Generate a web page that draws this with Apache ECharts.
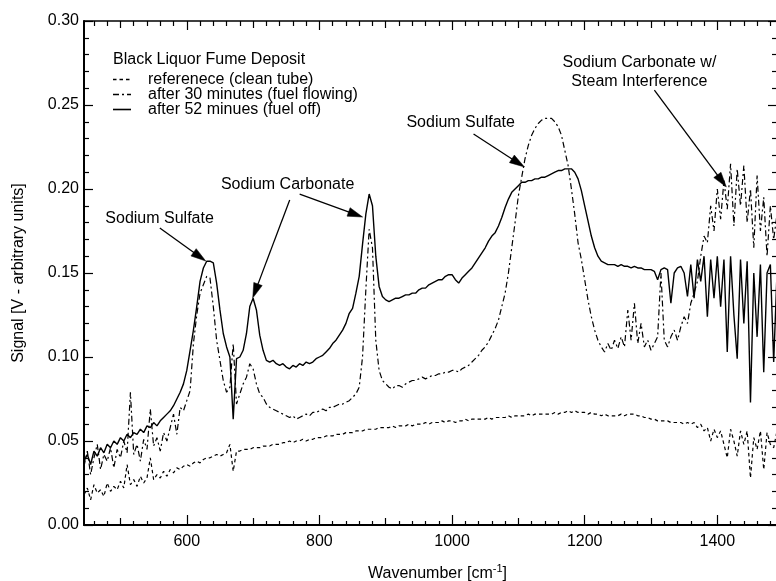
<!DOCTYPE html>
<html><head><meta charset="utf-8">
<script src="https://cdn.jsdelivr.net/npm/echarts@6.0.0/dist/echarts.min.js"></script>
<style>html,body{margin:0;padding:0;background:#fff}#c{width:776px;height:581px}</style>
</head><body><div id="c"></div>
<script>
// Wavenumber grid [cm-1]
const wavenumber = [
 445,450,455,460,465,470,475,480,485,490,
 495,500,505,510,515,520,525,530,535,540,
 545,550,555,560,565,570,575,580,585,590,
 595,600,605,610,615,620,625,630,635,640,
 645,650,655,660,665,670,675,680,685,690,
 695,700,705,710,715,720,725,730,735,740,
 745,750,755,760,765,770,775,780,785,790,
 795,800,805,810,815,820,825,830,835,840,
 845,850,855,860,865,870,875,880,885,890,
 895,900,905,910,915,920,925,930,935,940,
 945,950,955,960,965,970,975,980,985,990,
 995,1000,1005,1010,1015,1020,1025,1030,1035,1040,
 1045,1050,1055,1060,1065,1070,1075,1080,1085,1090,
 1095,1100,1105,1110,1115,1120,1125,1130,1135,1140,
 1145,1150,1155,1160,1165,1170,1175,1180,1185,1190,
 1195,1200,1205,1210,1215,1220,1225,1230,1235,1240,
 1245,1250,1255,1260,1265,1270,1275,1280,1285,1290,
 1295,1300,1305,1310,1315,1320,1325,1330,1335,1340,
 1345,1350,1355,1360,1365,1370,1375,1380,1385,1390,
 1395,1400,1405,1410,1415,1420,1425,1430,1435,1440,
 1445,1450,1455,1460,1465,1470,1475,1480,1485,1490
];
// referenece (clean tube) - dashed
const reference = [
 0.018,0.022,0.015,0.024,0.019,0.021,0.017,0.025,0.020,0.023,
 0.021,0.026,0.022,0.036,0.024,0.027,0.023,0.029,0.025,0.028,
 0.040,0.027,0.030,0.028,0.032,0.029,0.033,0.031,0.034,0.033,
 0.035,0.036,0.035,0.037,0.038,0.037,0.039,0.040,0.040,0.041,
 0.042,0.041,0.042,0.043,0.048,0.032,0.044,0.044,0.045,0.045,
 0.045,0.046,0.046,0.046,0.047,0.047,0.047,0.048,0.048,0.048,
 0.049,0.049,0.050,0.049,0.050,0.050,0.051,0.050,0.051,0.051,
 0.052,0.052,0.052,0.053,0.053,0.053,0.054,0.054,0.054,0.055,
 0.055,0.055,0.056,0.056,0.056,0.057,0.057,0.057,0.057,0.058,
 0.058,0.058,0.058,0.059,0.058,0.059,0.059,0.059,0.060,0.059,
 0.060,0.060,0.060,0.061,0.060,0.061,0.061,0.061,0.062,0.061,
 0.062,0.062,0.061,0.062,0.062,0.063,0.062,0.063,0.063,0.063,
 0.063,0.063,0.064,0.063,0.064,0.064,0.064,0.064,0.065,0.064,
 0.065,0.065,0.065,0.065,0.066,0.065,0.066,0.066,0.066,0.066,
 0.066,0.066,0.067,0.066,0.067,0.067,0.068,0.067,0.068,0.067,
 0.067,0.067,0.066,0.067,0.066,0.066,0.065,0.066,0.065,0.065,
 0.065,0.065,0.066,0.065,0.066,0.066,0.066,0.065,0.065,0.064,
 0.064,0.063,0.063,0.062,0.062,0.062,0.062,0.061,0.061,0.061,
 0.061,0.060,0.061,0.060,0.061,0.058,0.060,0.056,0.058,0.050,
 0.057,0.052,0.056,0.048,0.040,0.057,0.050,0.041,0.056,0.048,
 0.056,0.028,0.052,0.045,0.056,0.033,0.055,0.048,0.046,0.056
];
// after 30 minutes (fuel flowing) - dash-dot
const after30 = [
 0.035,0.044,0.030,0.040,0.048,0.033,0.042,0.038,0.046,0.034,
 0.045,0.040,0.050,0.043,0.079,0.042,0.048,0.038,0.051,0.045,
 0.069,0.047,0.052,0.044,0.055,0.050,0.058,0.066,0.054,0.070,
 0.068,0.074,0.080,0.108,0.125,0.138,0.143,0.148,0.147,0.130,
 0.110,0.098,0.086,0.079,0.082,0.108,0.072,0.078,0.084,0.088,
 0.096,0.093,0.084,0.078,0.076,0.072,0.070,0.069,0.068,0.067,
 0.066,0.065,0.064,0.065,0.063,0.064,0.065,0.066,0.065,0.067,
 0.067,0.068,0.069,0.068,0.070,0.070,0.071,0.072,0.072,0.073,
 0.074,0.076,0.078,0.082,0.100,0.140,0.176,0.165,0.110,0.092,
 0.086,0.084,0.082,0.081,0.083,0.083,0.082,0.084,0.085,0.086,
 0.086,0.087,0.088,0.087,0.088,0.089,0.089,0.090,0.090,0.091,
 0.091,0.092,0.092,0.091,0.093,0.094,0.095,0.097,0.099,0.101,
 0.104,0.106,0.109,0.113,0.117,0.122,0.130,0.138,0.150,0.165,
 0.180,0.196,0.207,0.218,0.226,0.232,0.236,0.239,0.241,0.242,
 0.242,0.242,0.240,0.237,0.232,0.223,0.214,0.200,0.185,0.168,
 0.158,0.146,0.134,0.124,0.116,0.110,0.106,0.103,0.108,0.104,
 0.110,0.105,0.112,0.106,0.128,0.110,0.132,0.108,0.120,0.106,
 0.110,0.104,0.108,0.112,0.150,0.110,0.106,0.112,0.116,0.110,
 0.118,0.124,0.120,0.132,0.138,0.145,0.160,0.172,0.168,0.190,
 0.175,0.200,0.182,0.205,0.188,0.215,0.178,0.212,0.190,0.214,
 0.180,0.200,0.165,0.208,0.175,0.195,0.160,0.190,0.170,0.185
];
// after 52 minues (fuel off) - solid
const after52 = [
 0.038,0.042,0.036,0.044,0.041,0.046,0.043,0.048,0.046,0.050,
 0.048,0.052,0.050,0.054,0.052,0.055,0.054,0.057,0.055,0.059,
 0.058,0.061,0.059,0.062,0.064,0.066,0.068,0.071,0.075,0.079,
 0.084,0.092,0.104,0.116,0.130,0.145,0.153,0.157,0.157,0.156,
 0.144,0.128,0.114,0.106,0.100,0.063,0.099,0.100,0.104,0.114,
 0.130,0.135,0.128,0.113,0.104,0.098,0.097,0.098,0.096,0.095,
 0.096,0.094,0.093,0.095,0.094,0.096,0.095,0.097,0.096,0.097,
 0.099,0.100,0.101,0.103,0.105,0.108,0.110,0.113,0.116,0.120,
 0.126,0.129,0.138,0.148,0.167,0.185,0.197,0.190,0.160,0.142,
 0.136,0.134,0.133,0.134,0.135,0.135,0.136,0.137,0.137,0.138,
 0.138,0.140,0.141,0.141,0.143,0.144,0.145,0.146,0.146,0.148,
 0.149,0.149,0.146,0.144,0.147,0.149,0.151,0.153,0.156,0.159,
 0.162,0.165,0.169,0.172,0.174,0.178,0.183,0.189,0.194,0.198,
 0.200,0.202,0.204,0.204,0.205,0.205,0.206,0.206,0.207,0.207,
 0.208,0.209,0.210,0.211,0.211,0.212,0.212,0.212,0.210,0.206,
 0.199,0.190,0.181,0.172,0.165,0.160,0.157,0.156,0.155,0.155,
 0.155,0.154,0.155,0.154,0.154,0.153,0.154,0.153,0.153,0.152,
 0.152,0.152,0.151,0.146,0.152,0.153,0.152,0.132,0.150,0.153,
 0.154,0.150,0.136,0.155,0.135,0.158,0.145,0.160,0.124,0.158,
 0.135,0.160,0.130,0.158,0.103,0.160,0.125,0.099,0.158,0.120,
 0.157,0.073,0.150,0.112,0.155,0.091,0.150,0.155,0.097,0.150
];
const seriesNames = ['referenece (clean tube)','after 30 minutes (fuel flowing)','after 52 minues (fuel off)'];
const legendTitle = 'Black Liquor Fume Deposit';
const xMajorTicks = [600,800,1000,1200,1400];
const xMidTicks = [500,700,900,1100,1300];
const xMinorTicks = [460,480,520,540,560,580,620,640,660,680,720,740,760,780,820,840,860,880,920,940,960,980,1020,1040,1060,1080,1120,1140,1160,1180,1220,1240,1260,1280,1320,1340,1360,1380,1420,1440,1460,1480];
// annotations (data coordinates)
const annoTexts = [
 {t:'Sodium Sulfate', at:[559,0.1821]},
 {t:'Sodium Carbonate', at:[752,0.2024]},
 {t:'Sodium Sulfate', at:[1013,0.2393]},
 {t:'Sodium Carbonate w/\nSteam Interference', at:[1282.5,0.2693]}
];
const annoArrows = [
 [[559.3,0.1768],[628.6,0.1571]],
 [[755.2,0.1935],[699.4,0.1351]],
 [[770.2,0.1970],[865.2,0.1833]],
 [[1032.4,0.2327],[1109.2,0.2131]],
 [[1305.1,0.2589],[1413.6,0.2012]]
];

const FONT = '"Liberation Sans", Arial, Helvetica, sans-serif';
const XMIN = 445, XMAX = 1490;
const DASHES = [[3.5,3],[6,3,2,3],null];
const WIDTHS = [1.2,1.2,1.4];
const pair = ys => wavenumber.map((x,i)=>[x, ys[i]]);

function xAx(pos, ticks, len, opts){
  return Object.assign({
    type:'value', min:XMIN, max:XMAX, position:pos, gridIndex:0,
    axisLine:{show:false}, splitLine:{show:false},
    axisTick:{show:true, inside:true, length:len, customValues:ticks, lineStyle:{color:'#000', width:1.2}},
    axisLabel:{show:false}
  }, opts||{});
}

const chart = echarts.init(document.getElementById('c'), null, {renderer:'canvas'});
const option = {
  animation:false,
  backgroundColor:'#fff',
  textStyle:{fontFamily:FONT},
  grid:{left:84, right:-1, top:21, bottom:56, containLabel:false, outerBoundsMode:'none'},
  xAxis:[
    xAx('bottom', xMajorTicks, 10, {
      axisLine:{show:true, lineStyle:{color:'#000', width:2}},
      axisLabel:{show:true, customValues:xMajorTicks, fontSize:16, color:'#000', margin:9, fontFamily:FONT,
                 formatter:v=>String(v)},
      name:'Wavenumber [cm{sup|-1}]', nameLocation:'middle', nameGap:38,
      nameTextStyle:{fontSize:16, color:'#000', fontFamily:FONT, padding:[0,0,0,14], lineHeight:22,
        rich:{sup:{fontSize:11, lineHeight:11, verticalAlign:'top', color:'#000', fontFamily:FONT}}}
    }),
    xAx('bottom', xMidTicks, 7),
    xAx('bottom', xMinorTicks, 4),
    xAx('top', xMajorTicks, 9, {axisLine:{show:true, lineStyle:{color:'#000', width:1.5}}}),
    xAx('top', xMidTicks, 7),
    xAx('top', xMinorTicks, 5)
  ],
  yAxis:[
    {type:'value', min:0, max:0.30, interval:0.05, position:'left',
     axisLine:{show:true, lineStyle:{color:'#000', width:2}},
     axisTick:{show:true, inside:true, length:9, lineStyle:{color:'#000', width:1.2}},
     minorTick:{show:true, splitNumber:5, length:5, lineStyle:{color:'#000', width:1.2}},
     splitLine:{show:false}, minorSplitLine:{show:false},
     axisLabel:{fontSize:16, color:'#000', margin:5, fontFamily:FONT, formatter:v=>v.toFixed(2)},
     name:'Signal [V - arbitrary units]', nameLocation:'middle', nameGap:57,
     nameTextStyle:{fontSize:16, color:'#000', fontFamily:FONT}},
    {type:'value', min:0, max:0.30, interval:0.05, position:'right',
     axisLine:{show:true, lineStyle:{color:'#000', width:1.5}},
     axisTick:{show:true, inside:true, length:9, lineStyle:{color:'#000', width:1.2}},
     minorTick:{show:true, splitNumber:5, length:5, lineStyle:{color:'#000', width:1.2}},
     splitLine:{show:false}, axisLabel:{show:false}}
  ],
  series:[reference, after30, after52].map((ys,k)=>({
    name:seriesNames[k], type:'line', data:pair(ys), showSymbol:false, symbol:'none',
    lineStyle:{color:'#000', width:WIDTHS[k], type:DASHES[k]||'solid'}, itemStyle:{color:'#000'}, z:2+k
  }))
};
chart.setOption(option);

function drawOverlay(){
  const g = [];
  const toPx = d => chart.convertToPixel({xAxisIndex:0, yAxisIndex:0}, d);
  // legend block
  g.push({type:'text', x:113, y:60, z:100,
    style:{text:legendTitle, font:'16px '+FONT, fill:'#000', textAlign:'left', textVerticalAlign:'middle', align:'left', verticalAlign:'middle'}});
  seriesNames.forEach((nm,k)=>{
    const y = 79.5 + 15*k;
    g.push({type:'line', z:100, shape:{x1:113, y1:y, x2:131, y2:y},
      style:{stroke:'#000', lineWidth:WIDTHS[k]+0.2, lineDash:DASHES[k]||null}});
    g.push({type:'text', x:148, y:y, z:100,
      style:{text:nm, font:'16px '+FONT, fill:'#000', textAlign:'left', textVerticalAlign:'middle', align:'left', verticalAlign:'middle'}});
  });
  annoTexts.forEach(a=>{
    const p = toPx(a.at);
    g.push({type:'text', x:p[0], y:p[1], z:100,
      style:{text:a.t, font:'16px '+FONT, fill:'#000', textAlign:'center', textVerticalAlign:'middle',
             align:'center', verticalAlign:'middle', lineHeight:19}});
  });
  annoArrows.forEach(([s,e])=>{
    const p0 = toPx(s), p1 = toPx(e);
    const dx = p1[0]-p0[0], dy = p1[1]-p0[1], L = Math.hypot(dx,dy);
    const ux = dx/L, uy = dy/L, hl = 15, hw = 4.5;
    const bx = p1[0]-ux*hl, by = p1[1]-uy*hl;
    g.push({type:'line', z:100, shape:{x1:p0[0], y1:p0[1], x2:bx+ux*2, y2:by+uy*2},
      style:{stroke:'#000', lineWidth:1.3}});
    g.push({type:'polygon', z:100, shape:{points:[[p1[0],p1[1]],[bx-uy*hw,by+ux*hw],[bx+uy*hw,by-ux*hw]]},
      style:{fill:'#000', stroke:'#000', lineWidth:0.5}});
  });
  chart.setOption({graphic:g});
}
drawOverlay();
</script>
</body></html>
